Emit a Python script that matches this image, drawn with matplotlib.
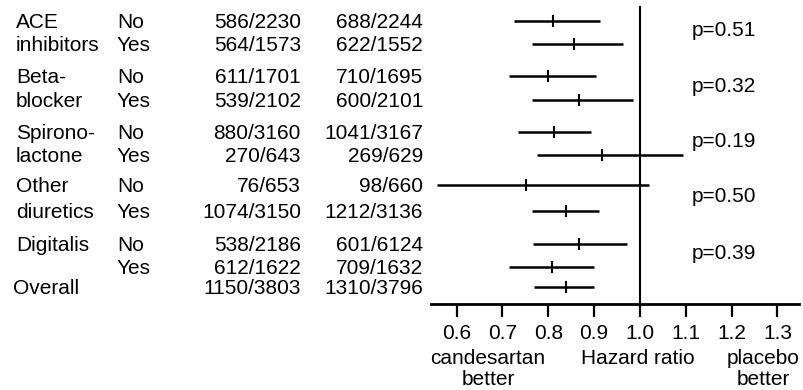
import matplotlib
matplotlib.use("Agg")
import matplotlib.pyplot as plt

plt.rcParams['font.family'] = ['Liberation Sans', 'DejaVu Sans']

# ---- data ----
group_line = ["ACE", "inhibitors", "Beta-", "blocker", "Spirono-", "lactone",
              "Other", "diuretics", "Digitalis", "", "Overall"]
subgroup = ["No", "Yes", "No", "Yes", "No", "Yes", "No", "Yes", "No", "Yes", ""]
candesartan = ["586/2230", "564/1573", "611/1701", "539/2102", "880/3160", "270/643",
               "76/653", "1074/3150", "538/2186", "612/1622", "1150/3803"]
placebo = ["688/2244", "622/1552", "710/1695", "600/2101", "1041/3167", "269/629",
           "98/660", "1212/3136", "601/6124", "709/1632", "1310/3796"]
hr = [0.81, 0.856, 0.80, 0.867, 0.812, 0.917, 0.751, 0.838, 0.867, 0.808, 0.838]
lo = [0.725, 0.764, 0.714, 0.764, 0.734, 0.775, 0.557, 0.764, 0.767, 0.714, 0.769]
hi = [0.913, 0.963, 0.904, 0.985, 0.893, 1.094, 1.020, 0.910, 0.972, 0.900, 0.900]
pvalues = ["p=0.51", "p=0.32", "p=0.19", "p=0.50", "p=0.39"]
xticks = [0.6, 0.7, 0.8, 0.9, 1.0, 1.1, 1.2, 1.3]
xticklabels = ["0.6", "0.7", "0.8", "0.9", "1.0", "1.1", "1.2", "1.3"]

# ---- layout (pixel rows from top) ----
W, H = 804, 390
row_y = [21, 44, 76, 100, 132, 155, 185, 211, 244, 267, 287]
FS = 15
BASE = 6.8  # baseline offset (px) below row centre

fig = plt.figure(figsize=(W / 100, H / 100), dpi=100)
ax_left, ax_right, ax_bottom = 431, 799, 304
ax = fig.add_axes([ax_left / W, 1 - ax_bottom / H, (ax_right - ax_left) / W, ax_bottom / H])
ax.set_xlim(0.544, 1.347)
ax.set_ylim(ax_bottom, 0)

for y, h, l, u in zip(row_y, hr, lo, hi):
    ax.plot([l, u], [y, y], color='black', lw=1.8, solid_capstyle='butt')
    ax.plot([h, h], [y - 5, y + 5], color='black', lw=1.5)

ax.axvline(1.0, ymin=0, ymax=1 - 7 / ax_bottom, color='black', lw=1.5)

for s in ['top', 'right', 'left']:
    ax.spines[s].set_visible(False)
ax.spines['bottom'].set_linewidth(2)
ax.set_yticks([])
ax.set_xticks(xticks)
ax.set_xticklabels(xticklabels, fontsize=FS)
ax.tick_params(axis='x', direction='out', length=9.5, width=1.6, pad=5)


def ftext(x, y, s, **kw):
    fig.text(x / W, 1 - (y + BASE) / H, s, fontsize=FS, va='baseline', **kw)


for i, y in enumerate(row_y):
    gx = 13 if group_line[i] == "Overall" else 16
    ftext(gx, y, group_line[i], ha='left')
    ftext(117, y, subgroup[i], ha='left')
    ftext(301, y, candesartan[i], ha='right')
    ftext(423, y, placebo[i], ha='right')

for k, p in enumerate(pvalues):
    ymid = (row_y[2 * k] + row_y[2 * k + 1]) / 2 - 3
    ftext(692, ymid, p, ha='left')

ftext(488, 357, "candesartan", ha='center')
ftext(488, 378, "better", ha='center')
ftext(638, 357, "Hazard ratio", ha='center')
ftext(763, 357, "placebo", ha='center')
ftext(763, 378, "better", ha='center')

fig.savefig("out.png", dpi=100)
